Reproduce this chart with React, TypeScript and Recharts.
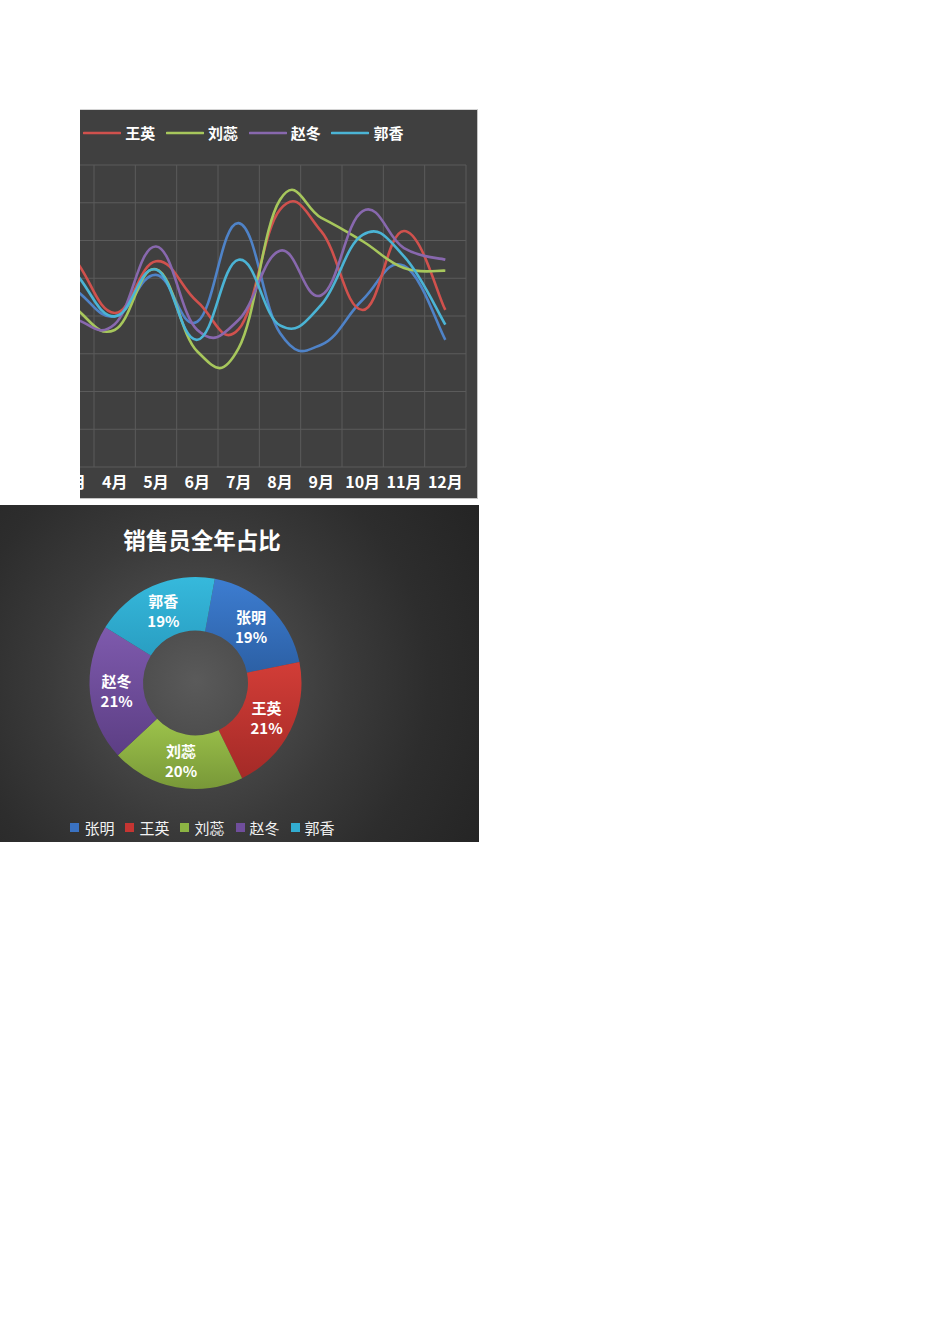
import React from 'react';
import { LineChart, Line, XAxis, YAxis, CartesianGrid, Legend, PieChart, Pie, Cell } from 'recharts';

// monthly sales per person (1月-3月 are outside the print area)
const months = ['1月', '2月', '3月', '4月', '5月', '6月', '7月', '8月', '9月', '10月', '11月', '12月'];
const zhangMing = [430, 520, 472, 399, 509, 385, 646, 355, 324, 443, 533, 337];
const wangYing = [560, 650, 555, 408, 545, 438, 365, 682, 624, 416, 625, 416];
const liuRui = [470, 520, 425, 363, 524, 306, 315, 708, 660, 598, 527, 520];
const zhaoDong = [450, 420, 393, 378, 584, 363, 390, 573, 455, 678, 580, 549];
const guoXiang = [500, 620, 520, 399, 523, 337, 549, 375, 430, 615, 558, 377];
const yTicks = [0, 100, 200, 300, 400, 500, 600, 700, 800];

const people = ['张明', '王英', '刘蕊', '赵冬', '郭香'];
const lineColors = ['#4f83c8', '#d0514d', '#a7c75c', '#8868ae', '#4bb4d5'];

// share of the year
const yearShare = [189, 209, 203, 207, 191];
const sliceTop = ['#3d7dd1', '#d23d37', '#9dc34b', '#7e5aad', '#36b9dc'];
const sliceBottom = ['#2c60a5', '#a42a27', '#789838', '#5c3e84', '#299ec2'];
const legendSquares = ['#3a72c2', '#c53532', '#8cb443', '#704e9c', '#32acd0'];

const series = [zhangMing, wangYing, liuRui, zhaoDong, guoXiang];
const lineData = months.map((m, i) => {
  const row: any = { month: m };
  people.forEach((p, k) => { row[p] = series[k][i]; });
  return row;
});
const pieData = people.map((p, i) => ({ name: p, value: yearShare[i] }));

// excel-like smoothed line: cardinal bezier, a bit looser than catmull-rom
const ARM = 0.21;
function excelSmooth(context: any) {
  let pts: number[][] = [];
  return {
    areaStart() {},
    areaEnd() {},
    lineStart() { pts = []; },
    point(x: number, y: number) { pts.push([+x, +y]); },
    lineEnd() {
      const n = pts.length;
      if (!n) return;
      context.moveTo(pts[0][0], pts[0][1]);
      for (let i = 0; i < n - 1; i++) {
        const p0 = pts[Math.max(0, i - 1)];
        const p1 = pts[i];
        const p2 = pts[i + 1];
        const p3 = pts[Math.min(n - 1, i + 2)];
        context.bezierCurveTo(
          p1[0] + (p2[0] - p0[0]) * ARM, p1[1] + (p2[1] - p0[1]) * ARM,
          p2[0] - (p3[0] - p1[0]) * ARM, p2[1] - (p3[1] - p1[1]) * ARM,
          p2[0], p2[1]
        );
      }
    },
  };
}

const font = '"Noto Sans CJK SC", "Noto Sans", sans-serif';
const chartW = 550;
const mLeft = 43;
const mRight = 11;
const halfBand = (chartW - mLeft - mRight) / months.length / 2;

function LineLegend() {
  return (
    <div style={{ height: 55, display: 'flex', justifyContent: 'center', paddingTop: 13, boxSizing: 'border-box' }}>
      {people.map((p, i) => (
        <div key={p} style={{ display: 'flex', alignItems: 'center', height: 19, marginLeft: i ? 10.7 : 0 }}>
          <svg width={38} height={6}>
            <line x1={1} y1={3} x2={37} y2={3} stroke={lineColors[i]} strokeWidth={2.6} strokeLinecap="round" />
          </svg>
          <span style={{ marginLeft: 4, color: '#fff', fontWeight: 700, fontSize: 15, lineHeight: '19px' }}>{p}</span>
        </div>
      ))}
    </div>
  );
}

function PieLegend() {
  return (
    <div style={{ height: 29, display: 'flex', justifyContent: 'center', alignItems: 'center' }}>
      {people.map((p, i) => (
        <div key={p} style={{ display: 'flex', alignItems: 'center', marginLeft: i ? 11 : 0 }}>
          <div style={{ width: 9, height: 9, background: legendSquares[i] }} />
          <span style={{ marginLeft: 5, color: '#f2f2f2', fontSize: 15, lineHeight: '19px' }}>{p}</span>
        </div>
      ))}
    </div>
  );
}

const RAD = Math.PI / 180;
function sliceLabel(props: any) {
  const { cx, cy, midAngle, innerRadius, outerRadius, name, percent } = props;
  const r = (innerRadius + outerRadius) / 2;
  const x = cx + r * Math.cos(-midAngle * RAD);
  const y = cy + r * Math.sin(-midAngle * RAD);
  return (
    <text x={x} y={y} fill="#fff" fontSize={15} fontWeight={700} textAnchor="middle" fontFamily={font}>
      <tspan x={x} dy={-4}>{name}</tspan>
      <tspan x={x} dy={20}>{`${Math.round(percent * 100)}%`}</tspan>
    </text>
  );
}

export default function App() {
  return (
    <div style={{ position: 'absolute', left: 0, top: 0, width: 950, height: 1344, background: '#fff', fontFamily: font }}>
      {/* monthly lines, clipped on the left like the printed sheet */}
      <div style={{
        position: 'absolute', left: 80, top: 109, width: 397, height: 388, overflow: 'hidden',
        background: '#404040', borderTop: '1px solid #d4d4d4', borderRight: '1px solid #c4c4c4', borderBottom: '1px solid #c4c4c4',
      }}>
        <div style={{ position: 'absolute', left: -153, top: 0 }}>
          <LineChart width={chartW} height={388} data={lineData} margin={{ top: 0, right: mRight, bottom: 1, left: mLeft }}>
            <CartesianGrid
              stroke="#5b5b5b"
              strokeWidth={1}
              verticalCoordinatesGenerator={({ offset }: any) =>
                months.map((_, i) => offset.left + (i * offset.width) / months.length).concat(offset.left + offset.width)
              }
            />
            <XAxis
              dataKey="month"
              padding={{ left: halfBand, right: halfBand }}
              axisLine={false}
              tickLine={false}
              tickSize={0}
              tickMargin={10}
              height={30}
              interval={0}
              tick={{ fill: '#fff', fontSize: 16, fontWeight: 700, fontFamily: font }}
            />
            <YAxis hide domain={[0, 800]} ticks={yTicks} />
            <Legend verticalAlign="top" content={LineLegend} wrapperStyle={{ left: 0, top: 0, width: chartW }} />
            {people.map((p, i) => (
              <Line
                key={p}
                dataKey={p}
                name={p}
                type={excelSmooth as any}
                stroke={lineColors[i]}
                strokeWidth={2.6}
                dot={false}
                activeDot={false}
                isAnimationActive={false}
              />
            ))}
          </LineChart>
        </div>
      </div>

      {/* yearly share donut */}
      <div style={{
        position: 'absolute', left: 0, top: 505, width: 479, height: 337, overflow: 'hidden',
        background: 'radial-gradient(circle at 196px 176px, #5a5a5a 0%, #4a4a4a 22%, #3a3a3a 45%, #2d2d2d 70%, #242424 100%)',
      }}>
        <div style={{ position: 'absolute', left: 0, top: 19, width: 404, textAlign: 'center', color: '#fff', fontSize: 22.5, fontWeight: 700, lineHeight: '30px' }}>
          销售员全年占比
        </div>
        <div style={{ position: 'absolute', left: 0, top: 0 }}>
          <PieChart width={479} height={337} margin={{ top: 0, right: 0, bottom: 0, left: 0 }}>
            <defs>
              {people.map((p, i) => (
                <linearGradient key={p} id={`slice${i}`} x1="0" y1="0" x2="0" y2="1">
                  <stop offset="0%" stopColor={sliceTop[i]} />
                  <stop offset="100%" stopColor={sliceBottom[i]} />
                </linearGradient>
              ))}
            </defs>
            <Pie
              data={pieData}
              dataKey="value"
              nameKey="name"
              cx={195.5}
              cy={178}
              innerRadius={52.5}
              outerRadius={106}
              startAngle={79.5}
              endAngle={-280.5}
              stroke="none"
              label={sliceLabel}
              labelLine={false}
              isAnimationActive={false}
            >
              {pieData.map((d, i) => (
                <Cell key={d.name} fill={`url(#slice${i})`} />
              ))}
            </Pie>
            <Legend verticalAlign="bottom" content={PieLegend} wrapperStyle={{ left: 0, bottom: 0, width: 405 }} />
          </PieChart>
        </div>
      </div>
    </div>
  );
}
